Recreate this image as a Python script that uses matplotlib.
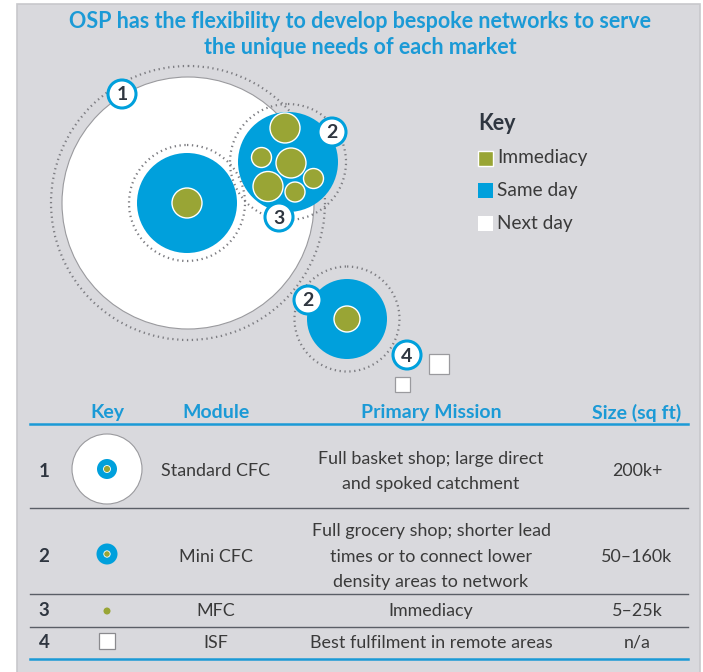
import matplotlib
matplotlib.use("Agg")
import matplotlib.pyplot as plt
from matplotlib.patches import Circle, Rectangle

# ---------------- data ----------------
title_lines = ["OSP has the flexibility to develop bespoke networks to serve",
               "the unique needs of each market"]
legend_title = "Key"
legend_labels = ["Immediacy", "Same day", "Next day"]
table_headers = ["Key", "Module", "Primary Mission", "Size (sq ft)"]
row_numbers = ["1", "2", "3", "4"]
modules = ["Standard CFC", "Mini CFC", "MFC", "ISF"]
missions = ["Full basket shop; large direct\nand spoked catchment",
            "Full grocery shop; shorter lead\ntimes or to connect lower\ndensity areas to network",
            "Immediacy",
            "Best fulfilment in remote areas"]
sizes = ["200k+", "50\u2013160k", "5\u201325k", "n/a"]

# ---------------- style ----------------
BG = "#d9d9dd"
BLUE = "#00a0dc"
TBLUE = "#1b9ad6"
GREEN = "#99a535"
DARK = "#2f3640"
TXT = "#3a3a3a"
DOT = "#7d7d82"
FONT = "Lato"

fig = plt.figure(figsize=(7.03, 6.72), dpi=100)
fig.patch.set_facecolor("white")
ax = fig.add_axes([0, 0, 1, 1])
ax.set_xlim(0, 703)
ax.set_ylim(672, 0)
ax.set_aspect("equal")
ax.axis("off")

# panel
ax.add_patch(Rectangle((17, 4), 683, 700, facecolor=BG, edgecolor="#c8c8cc", lw=1.2, zorder=0))

# title
for i, line in enumerate(title_lines):
    ax.text(360, 21.5 + 26 * i, line, ha="center", va="center", fontsize=15.5,
            fontweight="bold", color=TBLUE, family=FONT)

def circ(x, y, r, fc, ec="none", lw=0, ls="-", z=1):
    ax.add_patch(Circle((x, y), r, facecolor=fc, edgecolor=ec, lw=lw, ls=ls, zorder=z))

def ring(x, y, r, z=1):
    ax.add_patch(Circle((x, y), r, facecolor="none", edgecolor=DOT, lw=1.6,
                        ls=(0, (0.6, 1.6)), zorder=z))

def badge(x, y, s):
    circ(x, y, 14, "white", BLUE, 2.2, z=10)
    ax.text(x, y + 1, s, ha="center", va="center", fontsize=14, fontweight="bold",
            color=DARK, family=FONT, zorder=11)

# --- circle 1 (Standard CFC) ---
ring(188, 203, 137, z=1)
circ(188, 203, 126, "white", "#9a9a9e", 0.8, z=2)
ring(187, 203, 58, z=3)
circ(187, 203, 50, BLUE, z=4)
circ(187, 203, 15, GREEN, "white", 1.0, z=5)

# --- circle 2 upper with MFCs ---
ring(288, 162, 58, z=3)
circ(288, 162, 50, BLUE, z=6)
for (gx, gy, gr) in [(285, 128, 15), (261.5, 157.5, 10), (291, 163, 15),
                     (313.5, 178.5, 10), (268, 186.5, 15), (295, 192, 10)]:
    circ(gx, gy, gr, GREEN, "white", 1.0, z=7)

# --- circle 2 lower ---
ring(347, 319, 52.5, z=3)
circ(347, 319, 40, BLUE, z=4)
circ(347, 319, 13, GREEN, "white", 1.0, z=5)

# --- ISF squares ---
ax.add_patch(Rectangle((429, 354), 20, 20, facecolor="white", edgecolor="#9a9a9e", lw=0.9, zorder=5))
ax.add_patch(Rectangle((395, 377), 15, 15, facecolor="white", edgecolor="#9a9a9e", lw=0.9, zorder=5))

badge(122, 94, "1")
badge(332, 132, "2")
badge(279, 217, "3")
badge(308, 300, "2")
badge(407, 355, "4")

# legend
ax.text(478, 123, legend_title, ha="left", va="center", fontsize=15.5, fontweight="bold",
        color=DARK, family=FONT)
leg_colors = [GREEN, BLUE, "white"]
for i, (lab, c) in enumerate(zip(legend_labels, leg_colors)):
    y = 158 + 32.5 * i
    ax.add_patch(Rectangle((478, y - 7.5), 15, 15, facecolor=c,
                           edgecolor="white" if i == 0 else "none", lw=1.0, zorder=5))
    ax.text(497, y, lab, ha="left", va="center", fontsize=13.7, color=TXT, family=FONT)

# table
col_x = [107, 216, 431, 637]
for hx, h in zip(col_x, table_headers):
    ax.text(hx, 412.5, h, ha="center", va="center", fontsize=14, fontweight="bold",
            color=TBLUE, family=FONT)
ax.plot([30, 688], [424, 424], color=TBLUE, lw=1.8, zorder=3)
ax.plot([30, 688], [659, 659], color=TBLUE, lw=1.8, zorder=3)
for ly in [508, 594, 627]:
    ax.plot([30, 688], [ly, ly], color="#5a5e66", lw=1.0, zorder=3)

row_y = [471.5, 556.5, 611, 643]
for i, y in enumerate(row_y):
    ax.text(44, y, row_numbers[i], ha="center", va="center", fontsize=13.5,
            fontweight="bold", color=DARK, family=FONT)
    ax.text(216, y, modules[i], ha="center", va="center", fontsize=12.9, color=TXT, family=FONT)
    ax.text(431, y, missions[i], ha="center", va="center", fontsize=12.9, color=TXT,
            family=FONT, linespacing=1.75)
    ax.text(637, y, sizes[i], ha="center", va="center", fontsize=12.9, color=TXT, family=FONT)

# table icons
circ(107, 469, 35, "white", "#9a9a9e", 0.8, z=4)
circ(107, 469, 10, BLUE, z=5)
circ(107, 469, 3.5, GREEN, "white", 0.6, z=6)
circ(107, 554, 10.5, BLUE, z=5)
circ(107, 554, 3.2, GREEN, "white", 0.6, z=6)
circ(107, 611, 3.5, GREEN, z=5)
ax.add_patch(Rectangle((99, 633), 16, 16, facecolor="white", edgecolor="#8a8a8e", lw=0.9, zorder=5))

fig.savefig("out.png", dpi=100, facecolor=fig.get_facecolor())
